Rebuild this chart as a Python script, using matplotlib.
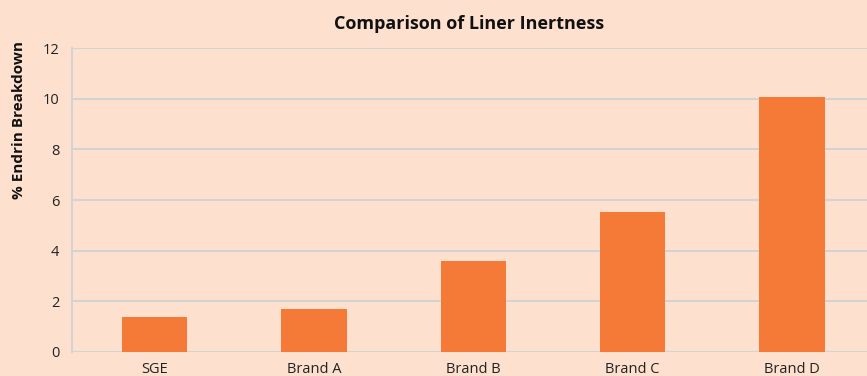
import matplotlib
matplotlib.use("Agg")
import matplotlib.pyplot as plt

# ── Data ──────────────────────────────────────────────────────────────────────
categories = ['SGE', 'Brand A', 'Brand B', 'Brand C', 'Brand D']
breakdown = [1.38, 1.70, 3.60, 5.53, 10.08]
y_ticks = [0, 2, 4, 6, 8, 10, 12]

BG = '#FDE1CE'
BAR = '#F57A37'
GRID = '#D3D3D3'

plt.rcParams['font.family'] = ['Open Sans', 'DejaVu Sans']

fig = plt.figure(figsize=(8.67, 3.76), dpi=100)
fig.patch.set_facecolor(BG)
ax = fig.add_axes([0.083, 0.064, 0.917, 0.808])
ax.set_facecolor(BG)

x = range(len(categories))
ax.bar(x, breakdown, width=0.41, color=BAR, zorder=3)

ax.set_xlim(-0.518, len(categories) - 0.53)
ax.set_ylim(0, 12)
ax.set_yticks(y_ticks)
ax.set_xticks(list(x))
ax.set_xticklabels(categories)
ax.tick_params(axis='both', length=0, labelsize=10.5, colors='#222222')
ax.tick_params(axis='x', pad=7)
ax.tick_params(axis='y', pad=9)

ax.grid(axis='y', color=GRID, linewidth=1.5, zorder=0)
for s in ['top', 'right', 'bottom']:
    ax.spines[s].set_visible(False)
ax.spines['left'].set_color(GRID)
ax.spines['left'].set_linewidth(1.5)

ax.set_title('Comparison of Liner Inertness', fontsize=13, fontweight='bold',
             pad=14, color='#111111')
ax.set_ylabel('% Endrin Breakdown', fontsize=11, fontweight='bold',
              color='#111111')
ax.yaxis.set_label_coords(-0.058, 0.765)

fig.savefig('out.png', dpi=100, facecolor=BG)
